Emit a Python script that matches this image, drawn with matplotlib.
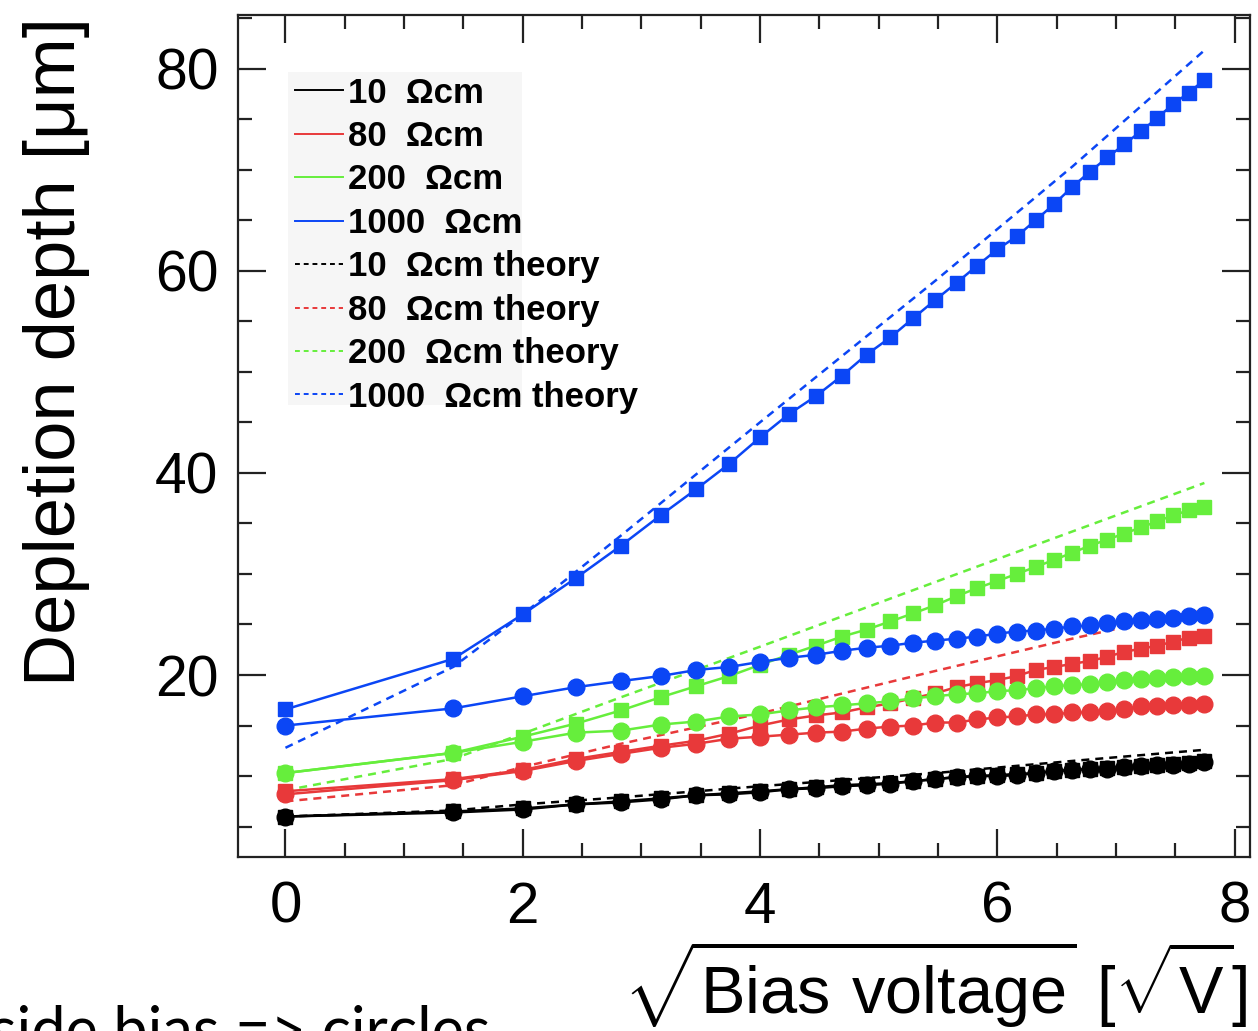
import numpy as np
import matplotlib
matplotlib.use("Agg")
import matplotlib.pyplot as plt
from matplotlib.lines import Line2D
from matplotlib.patches import Rectangle
from matplotlib.ticker import MultipleLocator

plt.rcParams['font.family'] = ['Liberation Sans', 'DejaVu Sans']
plt.rcParams['mathtext.fontset'] = 'custom'
plt.rcParams['mathtext.rm'] = 'Liberation Sans'

# bias voltages [V], the x axis shows sqrt(V)
bias_v = [0, 2, 4, 6, 8, 10, 12, 14, 16, 18, 20, 22, 24, 26, 28, 30,
          32, 34, 36, 38, 40, 42, 44, 46, 48, 50, 52, 54, 56, 58, 60]
theory_v = [0, 2, 4, 8, 16, 30, 44, 60]

# depletion depth [um], squares
sq_10 = [6.0, 6.5, 6.8, 7.2, 7.5, 7.8, 8.1, 8.3, 8.5, 8.7, 8.9, 9.1, 9.2, 9.3, 9.5,
         9.7, 9.9, 10.0, 10.1, 10.2, 10.3, 10.5, 10.6, 10.7, 10.8, 10.9, 11.0, 11.1, 11.2, 11.3, 11.5]
sq_80 = [8.5, 9.7, 10.6, 11.7, 12.4, 13.0, 13.5, 14.2, 15.0, 15.6, 16.0, 16.3, 16.8, 17.2, 17.7,
         18.2, 18.8, 19.2, 19.5, 19.9, 20.5, 20.8, 21.1, 21.4, 21.8, 22.3, 22.6, 22.9, 23.3, 23.7, 23.9]
sq_200 = [10.3, 12.3, 13.9, 15.2, 16.5, 17.8, 18.9, 19.9, 21.0, 22.0, 22.9, 23.8, 24.5, 25.3, 26.1,
          26.9, 27.8, 28.6, 29.3, 30.0, 30.7, 31.4, 32.1, 32.8, 33.4, 34.0, 34.6, 35.2, 35.8, 36.3, 36.6]
sq_1000 = [16.6, 21.6, 26.0, 29.6, 32.8, 35.8, 38.4, 40.9, 43.5, 45.8, 47.6, 49.6, 51.7, 53.4, 55.3,
           57.1, 58.8, 60.5, 62.1, 63.4, 65.0, 66.6, 68.3, 69.8, 71.2, 72.5, 73.8, 75.1, 76.5, 77.6, 78.9]

# depletion depth [um], circles (side bias)
ci_10 = [6.0, 6.4, 6.7, 7.2, 7.4, 7.7, 8.1, 8.2, 8.4, 8.7, 8.8, 9.0, 9.1, 9.25, 9.5,
         9.7, 9.9, 10.0, 10.0, 10.1, 10.3, 10.5, 10.6, 10.7, 10.7, 10.9, 11.0, 11.1, 11.1, 11.2, 11.4]
ci_80 = [8.2, 9.6, 10.5, 11.5, 12.2, 12.8, 13.2, 13.7, 13.9, 14.1, 14.3, 14.4, 14.7, 14.9, 15.0,
         15.3, 15.3, 15.6, 15.8, 15.9, 16.1, 16.1, 16.3, 16.3, 16.4, 16.6, 16.9, 16.9, 17.0, 17.0, 17.1]
ci_200 = [10.3, 12.3, 13.4, 14.3, 14.5, 15.1, 15.4, 15.9, 16.1, 16.5, 16.8, 17.0, 17.2, 17.4, 17.7,
          17.9, 18.1, 18.2, 18.4, 18.5, 18.7, 18.9, 19.0, 19.1, 19.3, 19.5, 19.6, 19.7, 19.8, 19.9, 19.9]
ci_1000 = [15.0, 16.7, 17.9, 18.8, 19.4, 19.9, 20.5, 20.8, 21.3, 21.7, 22.0, 22.4, 22.7, 22.9, 23.2,
           23.4, 23.6, 23.8, 24.1, 24.3, 24.4, 24.6, 24.8, 24.9, 25.1, 25.3, 25.4, 25.5, 25.6, 25.8, 25.9]

# theory curves
th_10 = [6.0, 6.6, 7.2, 7.9, 9.0, 10.3, 11.5, 12.6]
th_80 = [7.5, 9.1, 10.9, 13.2, 16.2, 20.4, 23.6, 26.5]
th_200 = [8.6, 11.7, 14.2, 17.8, 22.8, 29.2, 34.2, 39.0]
th_1000 = [12.8, 20.8, 26.0, 33.8, 45.0, 59.0, 70.3, 81.8]

labels = ['10  \u03a9cm', '80  \u03a9cm', '200  \u03a9cm', '1000  \u03a9cm']
colors = ['black', '#e8393a', '#66ee3c', '#0b46f5']

x = np.sqrt(bias_v)
xt = np.sqrt(theory_v)

fig = plt.figure(figsize=(12.58, 10.31), dpi=100)
ax = fig.add_axes([0.1892, 0.1688, 0.8044, 0.8167])

squares = [sq_10, sq_80, sq_200, sq_1000]
circles = [ci_10, ci_80, ci_200, ci_1000]
theory = [th_10, th_80, th_200, th_1000]

for th, c in zip(theory, colors):
    ax.plot(xt, th, color=c, lw=1.8, ls=(0, (3.2, 2.4)), zorder=2)
for sq, ci, c in zip(squares, circles, colors):
    ax.plot(x, ci, color=c, lw=1.8, marker='o', ms=12, mec=c, zorder=3)
    ax.plot(x, sq, color=c, lw=1.8, marker='s', ms=10, mec=c, zorder=3)

ax.set_xlim(-0.4, 8.13)
ax.set_ylim(2.0, 85.3)

ax.xaxis.set_major_locator(MultipleLocator(2))
ax.xaxis.set_minor_locator(MultipleLocator(0.5))
ax.yaxis.set_major_locator(MultipleLocator(20))
ax.yaxis.set_minor_locator(MultipleLocator(5))
ax.tick_params(which='both', direction='in', top=True, right=True, width=1.6, color='#222222')
ax.tick_params(which='major', length=20)
ax.tick_params(which='minor', length=10)
ax.tick_params(axis='y', which='major', labelsize=41, pad=14)
ax.tick_params(axis='x', which='major', labelsize=42, pad=17)
for sp in ax.spines.values():
    sp.set_linewidth(1.6)
    sp.set_color('#222222')

ax.set_ylabel('Depletion depth [\u03bcm]', fontsize=52)
ax.yaxis.set_label_coords(-0.146, 0.6)
ax.set_xlabel(r'$\sqrt{\mathrm{Bias\ voltage}}\ [\sqrt{\mathrm{V}}]$', fontsize=48)
ax.xaxis.set_label_coords(0.998, -0.097)
ax.xaxis.label.set_horizontalalignment('right')

# legend: grey box narrower than the text, plain line handles
ax.add_patch(Rectangle((0.049, 0.537), 0.232, 0.395, transform=ax.transAxes,
                       facecolor='#f6f6f6', edgecolor='none', zorder=1))
handles = [Line2D([], [], color=c, lw=1.4) for c in colors]
handles += [Line2D([], [], color=c, lw=1.4, ls=(0, (2.5, 2))) for c in colors]
leg_labels = labels + [l + ' theory' for l in labels]
leg = ax.legend(handles, leg_labels, loc='upper left', bbox_to_anchor=(0.049, 0.935),
                prop={'weight': 'bold', 'size': 25}, frameon=False,
                handlelength=1.4, handletextpad=0.15, labelspacing=0.3,
                borderpad=0.2, borderaxespad=0)

fig.text(-0.008, -0.019, 'side bias => circles', fontsize=44, family=['Lato', 'DejaVu Sans'],
         va='baseline', ha='left')

fig.savefig('out.png', dpi=100)
